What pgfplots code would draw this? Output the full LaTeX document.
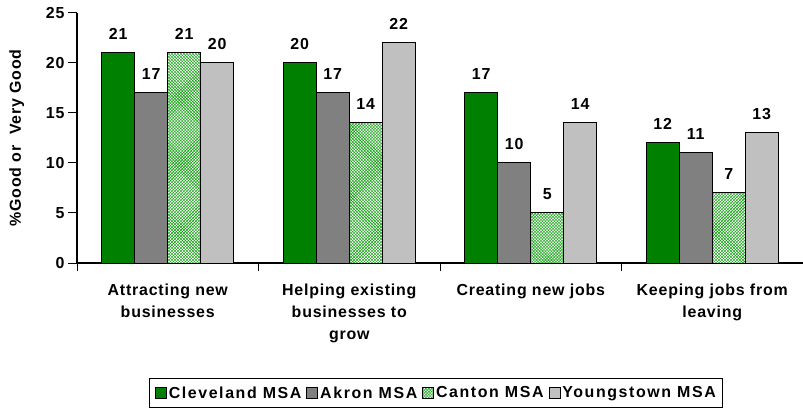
\documentclass[border=0pt]{standalone}
\usepackage{pgfplots}
\pgfplotsset{compat=1.18}
\usepackage{fontspec}
\setmainfont{Liberation Sans}
\newfontfamily\spaced{Liberation Sans}[LetterSpace=5]
\newfontfamily\legspaced{Liberation Sans}[LetterSpace=10]
\usetikzlibrary{patterns}
\definecolor{cgreen}{HTML}{008000}
\definecolor{cdgray}{HTML}{808080}
\definecolor{clgray}{HTML}{C0C0C0}
\begin{document}
\begin{tikzpicture}
\useasboundingbox (0,0) rectangle (803bp,411bp);
\begin{axis}[
  at={(77bp,148bp)}, anchor=south west,
  scale only axis, width=726bp, height=250bp,
  ybar=0pt, bar width=33bp,
  xmin=-0.5, xmax=3.5, ymin=0, ymax=25,
  axis x line*=bottom, axis y line*=left,
  axis line style={line width=1.2bp},
  tick align=outside,
  xtick={0,1,2,3},
  xticklabels={{Attracting new\\businesses},{Helping existing\\businesses to\\grow},{Creating new jobs},{Keeping jobs from\\leaving}},
  every major x tick/.append style={draw=none},
  minor xtick={-0.5,0.5,1.5,2.5,3.5},
  major tick length=9bp, minor tick length=8bp,
  every tick/.append style={line width=1bp, black},
  ytick={0,5,10,15,20,25},
  /pgf/number format/assume math mode=true,
  tick label style={font=\spaced\fontsize{16}{22.5}\selectfont\bfseries},
  xticklabel style={align=center, yshift=-8bp},
  ylabel={\%Good or\ \ Very Good},
  ylabel style={at={(axis description cs:-0.083,0.5)}, anchor=center, font=\spaced\fontsize{16}{18}\selectfont\bfseries},
  nodes near coords,
  every node near coord/.append style={font=\spaced\fontsize{16}{18}\selectfont\bfseries, anchor=south, inner sep=0pt, yshift=13bp},
  legend columns=4,
  legend style={at={(0.495,-0.52)}, anchor=center, draw=black, line width=1bp,
    font=\legspaced\fontsize{16}{18}\selectfont\bfseries, inner xsep=5bp, inner ysep=6bp,
    /tikz/every odd column/.append style={column sep=0bp},
    /tikz/every even column/.append style={column sep=3bp}},
  legend image code/.code={\draw[#1, line width=0.8bp] (0bp,-5.5bp) rectangle (11bp,5.5bp);},
]
\addplot[draw=black, line width=1bp, fill=cgreen] coordinates {(0,21) (1,20) (2,17) (3,12)};
\addplot[draw=black, line width=1bp, fill=cdgray] coordinates {(0,17) (1,17) (2,10) (3,11)};
\addplot[draw=black, line width=1bp, fill=white, postaction={pattern=crosshatch, pattern color=green!60!black}] coordinates {(0,21) (1,14) (2,5) (3,7)};
\addplot[draw=black, line width=1bp, fill=clgray] coordinates {(0,20) (1,22) (2,14) (3,13)};
\legend{Cleveland MSA, Akron MSA, Canton MSA, Youngstown MSA}
\end{axis}
\end{tikzpicture}
\end{document}
